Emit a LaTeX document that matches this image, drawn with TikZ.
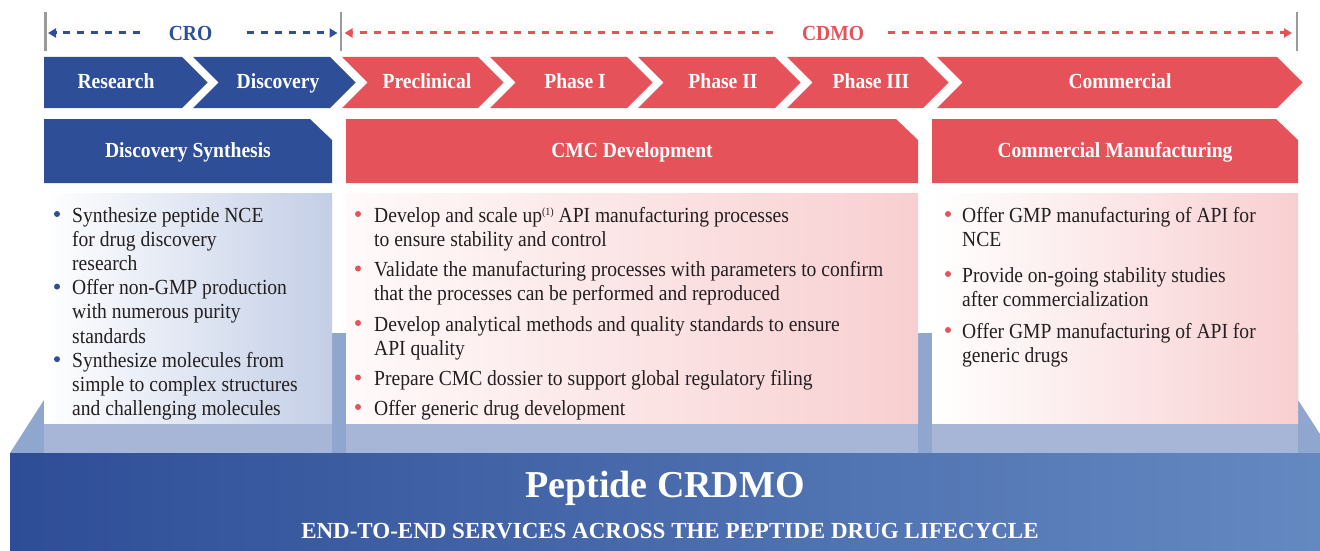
\documentclass[tikz,border=0pt]{standalone}
\usepackage{fontspec}
\usetikzlibrary{arrows.meta}
\newfontfamily\tnr{Liberation Serif}[FakeStretch=0.91]
\newfontfamily\tnrwide{Liberation Serif}
\definecolor{crdblue}{HTML}{2E4F98}
\definecolor{crdred}{HTML}{E5525A}
\definecolor{rulegray}{HTML}{9A9A9C}
\definecolor{platform}{HTML}{8FA7CF}
\definecolor{platlight}{HTML}{A7B6D7}
\definecolor{bodytext}{HTML}{231F20}
\definecolor{paleblue}{HTML}{C3CEE6}
\definecolor{palepink}{HTML}{F8CFD1}
\definecolor{pinkstart}{HTML}{FFFAFA}
\definecolor{bandleft}{HTML}{2E4D97}
\definecolor{bandmid}{HTML}{4062A8}
\definecolor{bandright}{HTML}{6489C1}

\begin{document}
\begin{tikzpicture}[x=1pt,y=-1pt,
  label/.style={font=\tnr\bfseries\fontsize{21.5}{24}\selectfont, text=white, inner sep=0, anchor=base},
  span/.style={line width=3pt, dash pattern=on 7pt off 7pt, -{Triangle[length=8pt,width=9pt]}},
  spanlabel/.style={font=\tnr\bfseries\fontsize{21.5}{24}\selectfont, inner sep=0, anchor=base},
  limit/.style={rulegray, line width=2.6pt},
  % multi-line item texts: the base anchor sits on the last line's baseline
  bodytxt/.style={font=\tnr\fontsize{21.5}{24.2}\selectfont, text=bodytext, align=left, anchor=base west, inner sep=0},
]
\useasboundingbox (0,0) rectangle (1320,551);

% ---- span markers: CRO / CDMO ----
\draw[limit] (45.3,12) -- (45.3,51);
\draw[limit] (341,12) -- (341,51);
\draw[limit] (1297,12) -- (1297,51);

\coordinate (croA) at (140,33);  \coordinate (croAtip) at (48,33);
\coordinate (croB) at (247,33);  \coordinate (croBtip) at (337.5,33);
\coordinate (cdmoA) at (773,33); \coordinate (cdmoAtip) at (344.5,33);
\coordinate (cdmoB) at (888,33); \coordinate (cdmoBtip) at (1292,33);
\draw[span, crdblue] (croA) -- (croAtip);
\draw[span, crdblue] (croB) -- (croBtip);
\draw[span, crdred] (cdmoA) -- (cdmoAtip);
\draw[span, crdred] (cdmoB) -- (cdmoBtip);
\node[spanlabel, text=crdblue] (cro) at (190.5,40.7) {CRO};
\node[spanlabel, text=crdred] (cdmo) at (833,40.7) {CDMO};

% ---- lifecycle chevrons ----
\fill[crdblue] (44,57) -- (182,57) -- (207.5,82.5) -- (182,108) -- (44,108) -- cycle;
\node[label] (research) at (116,88.3) {Research};
\foreach \l/\r/\c/\t/\col/\nm in {193/330/278/Discovery/crdblue/discovery,
    342/478/427/Preclinical/crdred/preclinical,
    490/627/575/Phase I/crdred/phaseone,
    638/775/723/Phase II/crdred/phasetwo,
    787/923/871/Phase III/crdred/phasethree,
    937/1277/1120/Commercial/crdred/commercial}{
  \fill[\col] (\l,57) -- (\r,57) -- (\r+25.5,82.5) -- (\r,108) -- (\l,108) -- (\l+25.5,82.5) -- cycle;
  \node[label] (\nm) at (\c,88.3) {\t};
}

% ---- platform behind the service panels ----
\fill[platform] (10,453) -- (44,400) -- (44,333) -- (1298,333) -- (1298,400)
  -- (1320,434) -- (1320,453) -- cycle;
\fill[platlight] (44,423) rectangle (332,453);
\fill[platlight] (346,423) rectangle (918,453);
\fill[platlight] (932,423) rectangle (1298,453);

% ---- panel headers ----
\fill[crdblue] (44,119) -- (310,119) -- (332,140) -- (332,183) -- (44,183) -- cycle;
\node[label] (hdisc) at (188,157) {Discovery Synthesis};
\fill[crdred] (346,119) -- (896,119) -- (918,140) -- (918,183) -- (346,183) -- cycle;
\node[label] (hcmc) at (632,157) {CMC Development};
\fill[crdred] (932,119) -- (1276,119) -- (1298,140) -- (1298,183) -- (932,183) -- cycle;
\node[label] (hcomm) at (1115,157) {Commercial Manufacturing};

% ---- panel bodies ----
\shade[left color=white, right color=paleblue] (44,193) rectangle (332,423);
\shade[left color=pinkstart, right color=palepink] (346,193) rectangle (918,423);
\shade[left color=white, right color=palepink] (932,193) rectangle (1298,423);

% Discovery Synthesis items (first-line baselines 222, 294.6, 367.2)
\foreach \y in {222,294.6,367.2} \fill[crdblue] (57,\y-8) circle (3);
\node[bodytxt] (ds1) at (72,270.4) {Synthesize peptide NCE\\for drug discovery\\research};
\node[bodytxt] (ds2) at (72,343) {Offer non-GMP production\\with numerous purity\\standards};
\node[bodytxt] (ds3) at (72,415.6) {Synthesize molecules from\\simple to complex structures\\and challenging molecules};

% CMC Development items (first-line baselines 222, 276.5, 331, 385.5, 415)
\foreach \y in {222,276.5,331,385.5,415} \fill[crdred] (358,\y-8) circle (3);
\node[bodytxt] (cm1) at (374,246.2) {Develop and scale up\raisebox{7pt}{\fontsize{11}{11}\selectfont(1)} API manufacturing processes\\to ensure stability and control};
\node[bodytxt] (cm2) at (374,300.7) {Validate the manufacturing processes with parameters to confirm\\that the processes can be performed and reproduced};
\node[bodytxt] (cm3) at (374,355.2) {Develop analytical methods and quality standards to ensure\\API quality};
\node[bodytxt] (cm4) at (374,385.5) {Prepare CMC dossier to support global regulatory filing};
\node[bodytxt] (cm5) at (374,415) {Offer generic drug development};

% Commercial Manufacturing items (first-line baselines 222, 282, 338)
\foreach \y in {222,282,338} \fill[crdred] (948,\y-8) circle (3);
\node[bodytxt] (cf1) at (962,246.2) {Offer GMP manufacturing of API for\\NCE};
\node[bodytxt] (cf2) at (962,306.2) {Provide on-going stability studies\\after commercialization};
\node[bodytxt] (cf3) at (962,362.2) {Offer GMP manufacturing of API for\\generic drugs};

% ---- base band ----
\shade[left color=bandleft, middle color=bandmid, right color=bandright] (10,453) rectangle (1320,551);
\node[font=\tnrwide\bfseries\fontsize{38}{40}\selectfont, text=white, inner sep=0, anchor=base] (crdmo) at (665,497) {Peptide CRDMO};
\node[font=\tnrwide\bfseries\fontsize{23}{25}\selectfont, text=white, inner sep=0, anchor=base] (tagline) at (670,538) {END-TO-END SERVICES ACROSS THE PEPTIDE DRUG LIFECYCLE};
\end{tikzpicture}
\end{document}
